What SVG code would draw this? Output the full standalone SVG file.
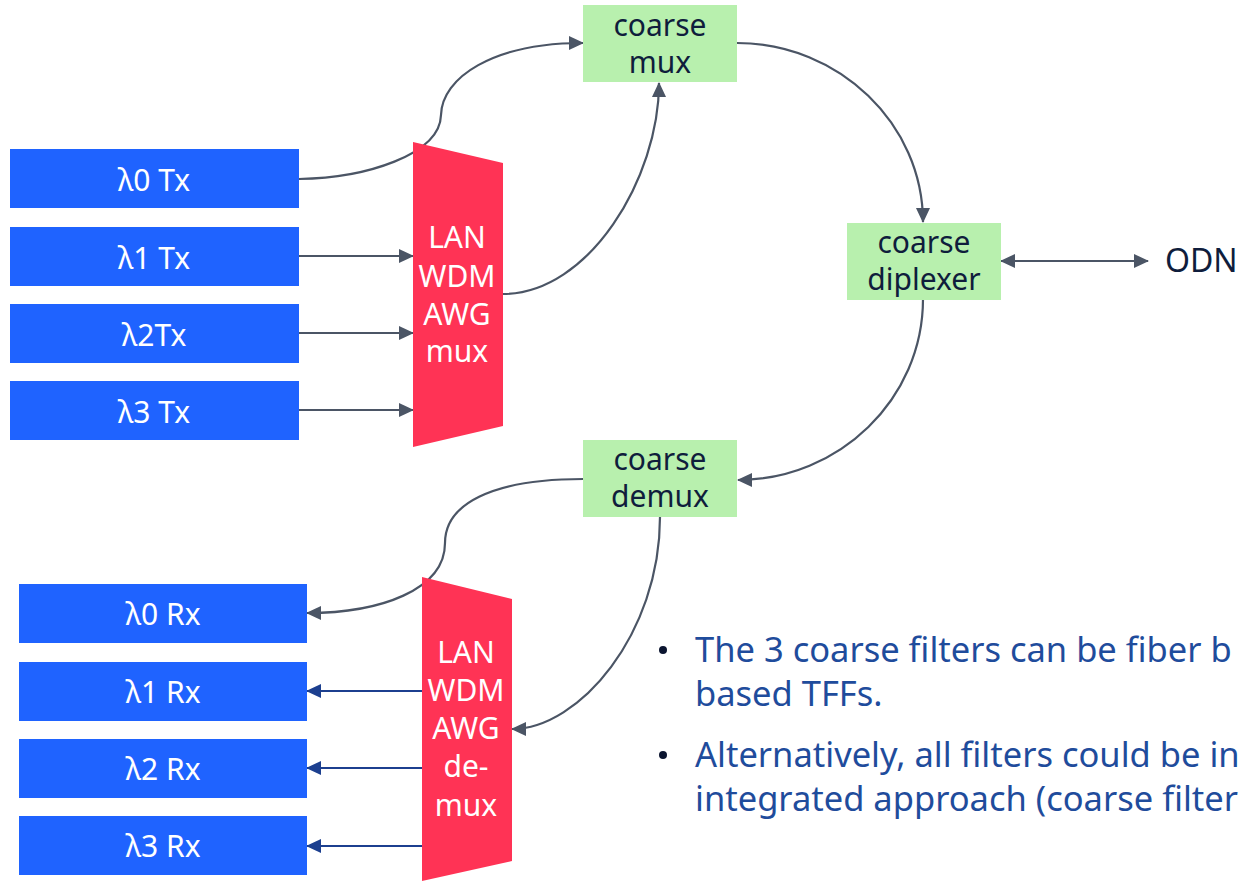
<svg xmlns="http://www.w3.org/2000/svg" width="1244" height="881" viewBox="0 0 1244 881">
<style>
.tx{fill:#1f63ff}
.awg{fill:#ff3355}
.cf{fill:#b8f0ae}
.wt{font-family:"Noto Sans","Open Sans",sans-serif;font-size:30px;fill:#ffffff;text-anchor:middle}
.dk{font-family:"Noto Sans","Open Sans",sans-serif;font-size:30px;fill:#0f1d3c;text-anchor:middle}
.bl{font-family:"Noto Sans","Open Sans",sans-serif;font-size:34.5px;fill:#1f4c9c}
.c{fill:none;stroke:#4b5565;stroke-width:2.2}
.n{fill:none;stroke:#1c3f8f;stroke-width:2.2}
</style>
<defs>
<marker id="ag" markerUnits="userSpaceOnUse" markerWidth="15" markerHeight="14" refX="14" refY="7" orient="auto-start-reverse"><path d="M0,0 L15,7 L0,14 z" fill="#4b5565"/></marker>
<marker id="an" markerUnits="userSpaceOnUse" markerWidth="15" markerHeight="14" refX="14" refY="7" orient="auto"><path d="M0,0 L15,7 L0,14 z" fill="#1c3f8f"/></marker>
</defs>
<g id="connectors">
<path class="c" d="M299,179 C365,178 440,155 441,115 C442,78 492,43 583,43" marker-end="url(#ag)"/>
<path class="c" d="M299,256 H413" marker-end="url(#ag)"/>
<path class="c" d="M299,333 H413" marker-end="url(#ag)"/>
<path class="c" d="M299,410 H413" marker-end="url(#ag)"/>
<path class="c" d="M503,294 C589,294 659,178 659,83" marker-end="url(#ag)"/>
<path class="c" d="M737,43 C839,43 923,124 923,222" marker-end="url(#ag)"/>
<path class="c" d="M1001,261 H1148" marker-start="url(#ag)" marker-end="url(#ag)"/>
<path class="c" d="M923,299 C923,399 839,480 738,480" marker-end="url(#ag)"/>
<path class="c" d="M583,479 C490,479 445,505 445,543 C445,590 380,613 307,613" marker-end="url(#ag)"/>
<path class="c" d="M660,517 C660,634 579,729 512,729" marker-end="url(#ag)"/>
<path class="n" d="M422,691 H307" marker-end="url(#an)"/>
<path class="n" d="M422,768 H307" marker-end="url(#an)"/>
<path class="n" d="M422,846 H307" marker-end="url(#an)"/>
</g>
<g id="tx0"><rect class="tx" x="10" y="149" width="289" height="59"/><text class="wt" x="154" y="191">λ0 Tx</text></g>
<g id="tx1"><rect class="tx" x="10" y="227" width="289" height="59"/><text class="wt" x="154" y="269">λ1 Tx</text></g>
<g id="tx2"><rect class="tx" x="10" y="304" width="289" height="59"/><text class="wt" x="154" y="346">λ2Tx</text></g>
<g id="tx3"><rect class="tx" x="10" y="381" width="289" height="59"/><text class="wt" x="154" y="423">λ3 Tx</text></g>
<g id="awgmux"><polygon class="awg" points="413,142 503,163 503,426 413,447"/>
<text class="wt" x="457" y="248">LAN</text><text class="wt" x="457" y="287">WDM</text><text class="wt" x="457" y="325">AWG</text><text class="wt" x="457" y="362">mux</text></g>
<g id="cmux"><rect class="cf" x="583" y="5" width="154" height="77"/><text class="dk" x="660" y="36">coarse</text><text class="dk" x="660" y="73">mux</text></g>
<g id="cdiplexer"><rect class="cf" x="847" y="223" width="154" height="77"/><text class="dk" x="924" y="253">coarse</text><text class="dk" x="924" y="290">diplexer</text></g>
<g id="odn"><text x="1165" y="272" style="font-family:'Noto Sans','Open Sans',sans-serif;font-size:32px;fill:#0f1d3c">ODN</text></g>
<g id="cdemux"><rect class="cf" x="583" y="440" width="154" height="77"/><text class="dk" x="660" y="470">coarse</text><text class="dk" x="660" y="507">demux</text></g>
<g id="awgdemux"><polygon class="awg" points="422,577 512,599 512,861 422,881"/>
<text class="wt" x="466" y="663">LAN</text><text class="wt" x="466" y="701">WDM</text><text class="wt" x="466" y="739">AWG</text><text class="wt" x="466" y="777">de-</text><text class="wt" x="466" y="816">mux</text></g>
<g id="rx0"><rect class="tx" x="19" y="584" width="288" height="59"/><text class="wt" x="163" y="625">λ0 Rx</text></g>
<g id="rx1"><rect class="tx" x="19" y="662" width="288" height="59"/><text class="wt" x="163" y="703">λ1 Rx</text></g>
<g id="rx2"><rect class="tx" x="19" y="739" width="288" height="59"/><text class="wt" x="163" y="780">λ2 Rx</text></g>
<g id="rx3"><rect class="tx" x="19" y="816" width="288" height="59"/><text class="wt" x="163" y="857">λ3 Rx</text></g>
<g id="bullets">
<circle cx="663" cy="650" r="4" fill="#0b1530"/>
<circle cx="663" cy="755" r="4" fill="#0b1530"/>
<text class="bl" x="695" y="662">The 3 coarse filters can be fiber b</text>
<text class="bl" x="695" y="706">based TFFs.</text>
<text class="bl" x="695" y="767">Alternatively, all filters could be in</text>
<text class="bl" x="695" y="811">integrated approach (coarse filter</text>
</g>
</svg>
